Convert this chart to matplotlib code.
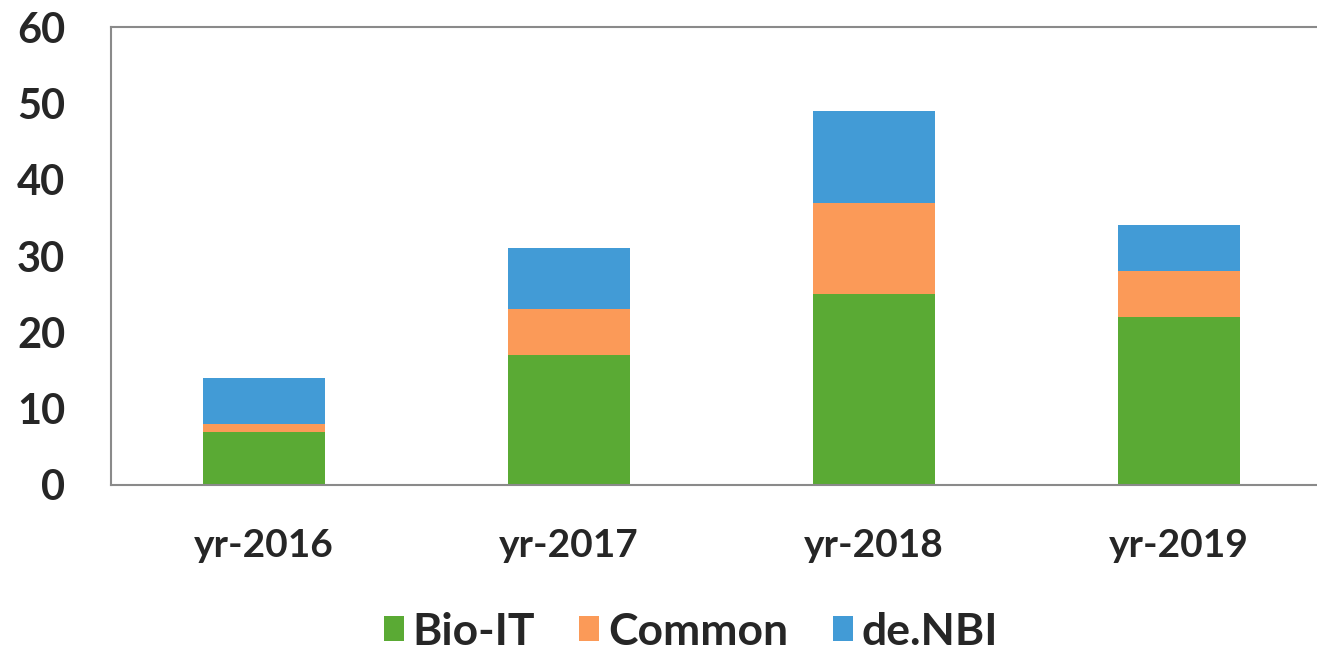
import numpy as np
import matplotlib.pyplot as plt

years = ['yr-2016', 'yr-2017', 'yr-2018', 'yr-2019']
bio_it = [7, 17, 25, 22]
common = [1, 6, 12, 6]
de_nbi = [6, 8, 12, 6]

plt.rcParams['font.family'] = ['Lato', 'DejaVu Sans']
plt.rcParams['font.weight'] = 'bold'

fig = plt.figure(figsize=(13.17, 6.49), dpi=100)
ax = fig.add_axes([111 / 1317, 164 / 649, 1220 / 1317, 458 / 649])

x = np.arange(len(years))
w = 0.4
b1 = np.array(bio_it)
b2 = b1 + np.array(common)
ax.bar(x, bio_it, w, color='#5aaa34', label='Bio-IT', zorder=2)
ax.bar(x, common, w, bottom=b1, color='#fb9a58', label='Common', zorder=2)
ax.bar(x, de_nbi, w, bottom=b2, color='#429bd6', label='de.NBI', zorder=2)

ax.set_xlim(-0.5, 3.5)
ax.set_ylim(0, 60)
ax.set_yticks(range(0, 61, 10))
ax.set_xticks(x, years)
ax.tick_params(axis='both', length=0, colors='#262626')
ax.tick_params(axis='y', pad=33, labelsize=30)
ax.tick_params(axis='x', pad=31, labelsize=28)
for s in ax.spines.values():
    s.set_color('#8a8a8a')
    s.set_linewidth(1.5)

ax.legend(loc='center', bbox_to_anchor=(580 / 1220, -0.32), ncol=3, frameon=False,
          fontsize=32, handlelength=0.45, handleheight=0.5, handletextpad=0.2,
          columnspacing=1.0, labelcolor='#262626')

fig.savefig('out.png', dpi=100)
